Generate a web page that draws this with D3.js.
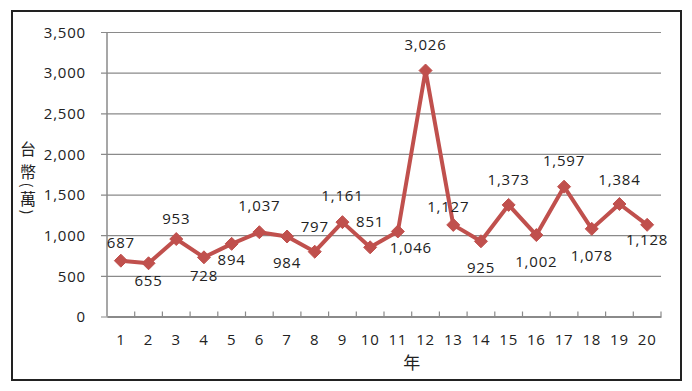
<!DOCTYPE html>
<html>
<head>
<meta charset="utf-8">
<script src="https://cdn.jsdelivr.net/npm/d3@7"></script>
<style>
  html, body { margin: 0; padding: 0; background: #fff; }
  svg { display: block; }
  text { font-family: "Open Sans", "Noto Sans", sans-serif; fill: #222; }
  .cjk { font-family: "Noto Sans CJK TC", "Noto Sans CJK SC", sans-serif; }
</style>
</head>
<body>
<svg id="chart" width="692" height="391"></svg>
<script>
// ---- data ----
const categories = ["1","2","3","4","5","6","7","8","9","10","11","12","13","14","15","16","17","18","19","20"];
const values = [687, 655, 953, 728, 894, 1037, 984, 797, 1161, 851, 1046, 3026, 1127, 925, 1373, 1002, 1597, 1078, 1384, 1128];
const yTicks = [0, 500, 1000, 1500, 2000, 2500, 3000, 3500];
const yTitle = ["台", "幣", "(", "萬", ")"];
const xTitle = "年";

// ---- label layout (offsets of each data label centre from its point) ----
const labelDx = [0,0,0,0,0,0,0,0,0,0,13,0,-5,0,0,0,0,0,0,0];
const labelDy = [-18,17,-20,18,16,-26,26,-25,-26,-26,16,-26,-18,26,-25,27,-26,27,-24,15];

const svg = d3.select("#chart");
const fmt = d3.format(",");
const red = "#C0504D";
const grid = "#8a8a8a";

// frame
svg.append("rect").attr("x", 12).attr("y", 11).attr("width", 669).attr("height", 369)
  .attr("fill", "#fff").attr("stroke", "#222").attr("stroke-width", 2);

const plot = { left: 107, right: 661, top: 32, bottom: 316.5 };
const x = d3.scaleBand().domain(categories).range([plot.left, plot.right]).padding(0);
const y = d3.scaleLinear().domain([0, 3500]).range([plot.bottom, plot.top]);

// gridlines + y axis labels
const yAxis = d3.axisLeft(y).tickValues(yTicks).tickFormat(fmt)
  .tickSize(-(plot.right - plot.left)).tickPadding(15).tickSizeOuter(0);
const gy = svg.append("g").attr("transform", `translate(${plot.left},0)`).call(yAxis);
gy.select(".domain").remove();
gy.selectAll(".tick line").attr("stroke", grid).attr("stroke-width", 1.2).attr("x1", -6);
gy.selectAll(".tick text").attr("font-size", 15).attr("letter-spacing", 0.8)
  .attr("fill", "#222").attr("dy", "0.35em").attr("x", -21);

// y axis line
svg.append("line").attr("x1", plot.left).attr("x2", plot.left)
  .attr("y1", plot.top).attr("y2", plot.bottom).attr("stroke", grid).attr("stroke-width", 1.5);

// x axis
const gx = svg.append("g").attr("transform", `translate(0,${plot.bottom})`)
  .call(d3.axisBottom(x).tickSize(0).tickPadding(18));
gx.select(".domain").attr("stroke", grid).attr("stroke-width", 2);
gx.selectAll(".tick text").attr("font-size", 15).attr("letter-spacing", 0.8).attr("fill", "#222");
// tick marks between categories (upward)
const boundaries = categories.map(c => x(c)).concat([plot.right]).slice(1);
svg.append("g").selectAll("line").data(boundaries).join("line")
  .attr("x1", d => d).attr("x2", d => d)
  .attr("y1", plot.bottom).attr("y2", plot.bottom - 5)
  .attr("stroke", grid).attr("stroke-width", 1.2);

// titles
svg.append("text").attr("class", "cjk").attr("x", x("12")).attr("y", 369)
  .attr("text-anchor", "middle").attr("font-size", 17).text(xTitle);
const yT = svg.append("g");
const yPos = [148, 171, 185, 198, 212];
yTitle.forEach((ch, i) => {
  const isBracket = ch === "(" || ch === ")";
  yT.append("text").attr("class", "cjk")
    .attr("transform", `translate(28,${yPos[i]})` + (isBracket ? " rotate(90)" : ""))
    .attr("text-anchor", "middle").attr("dominant-baseline", "central")
    .attr("font-size", isBracket ? 14 : 16).text(ch);
});

// line
const cx = (d, i) => x(categories[i]) + x.bandwidth() / 2;
const line = d3.line().x((d, i) => cx(d, i)).y(d => y(d));
svg.append("path").datum(values).attr("d", line)
  .attr("fill", "none").attr("stroke", red).attr("stroke-width", 4).attr("stroke-linejoin", "round");

// markers
const r = 6.5;
svg.append("g").selectAll("path").data(values).join("path")
  .attr("d", (d, i) => {
    const px = cx(d, i), py = y(d);
    return `M${px},${py - r}L${px + r},${py}L${px},${py + r}L${px - r},${py}Z`;
  })
  .attr("fill", red).attr("stroke", red).attr("stroke-width", 1);

// data labels
svg.append("g").selectAll("text").data(values).join("text")
  .attr("x", (d, i) => cx(d, i) + labelDx[i])
  .attr("y", (d, i) => y(d) + labelDy[i])
  .attr("dy", "0.35em")
  .attr("text-anchor", "middle").attr("font-size", 15).attr("letter-spacing", 0.8)
  .text(d => fmt(d));
</script>
</body>
</html>
